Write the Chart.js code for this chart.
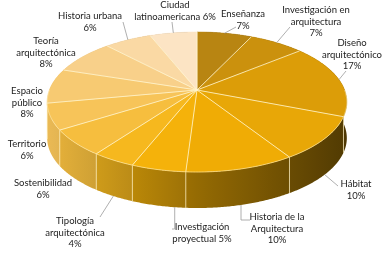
<!DOCTYPE html>
<html>
<head>
<meta charset="utf-8">
<script src="https://cdn.jsdelivr.net/npm/chart.js@4.4.1/dist/chart.umd.min.js"></script>
<style>
  html, body { margin: 0; padding: 0; background: #fff; }
  #wrap { width: 390px; height: 253px; }
</style>
</head>
<body>
<div id="wrap"><canvas id="pieChart" width="390" height="253"></canvas></div>
<script>
const categories = ['Enseñanza', 'Investigación en arquitectura', 'Diseño arquitectónico', 'Hábitat',
  'Historia de la Arquitectura', 'Investigación proyectual', 'Tipología arquitectónica', 'Sostenibilidad',
  'Territorio', 'Espacio público', 'Teoría arquitectónica', 'Historia urbana', 'Ciudad latinoamericana'];
const shares = [7, 7, 17, 10, 10, 5, 4, 6, 6, 8, 8, 6, 6];

// how each label is broken into lines ({p} = percentage)
const labelLines = [
  ['Enseñanza', '{p}'], ['Investigación en', 'arquitectura', '{p}'], ['Diseño', 'arquitectónico', '{p}'],
  ['Hábitat', '{p}'], ['Historia de la', 'Arquitectura', '{p}'], ['Investigación', 'proyectual {p}'],
  ['Tipología', 'arquitectónica', '{p}'], ['Sostenibilidad', '{p}'], ['Territorio', '{p}'],
  ['Espacio', 'público', '{p}'], ['Teoría', 'arquitectónica', '{p}'], ['Historia urbana', '{p}'],
  ['Ciudad', 'latinoamericana {p}']
];

const sliceColors = ['#B88512', '#CB910D', '#DC9D08', '#E8A707', '#F0AC05', '#F5B20A', '#F6B81E',
  '#F6BE3E', '#F7C459', '#F7CA72', '#F8D08A', '#FAD9A4', '#FCE4C4'];

// label placement: centre x, y of first line
const labelPos = [[243, 14], [316, 10], [352, 43], [356, 184], [277, 217], [202, 227], [75, 221],
  [43, 183], [27, 144], [27, 91], [46, 41], [90, 16], [175, 5]];
// leader lines: label-side end (null = no leader) and where along the slice they start
const leaderEnd = [[236, 27], [290, 27], [346, 71], [338, 186], [250, 220], [172, 229], [100, 217],
  null, null, null, null, [123, 22], [172, 22]];
const leaderAt = [0.5, 0.5, 0.5, 0.5, 0.5, 0.2, 0.5, 0.5, 0.5, 0.5, 0.5, 0.5, 0.5];

const SX = 1.64, SY = 0.755, DEPTH = 0.4, PERSP = 0.1714;

function rgb(hex) {
  const n = parseInt(hex.slice(1), 16);
  return [(n >> 16) & 255, (n >> 8) & 255, n & 255];
}
function shade(hex, f) {
  const c = rgb(hex).map(x => Math.min(255, Math.round(x * f)));
  return `rgb(${c[0]},${c[1]},${c[2]})`;
}
function wallFactor(u) {
  return u < 0 ? 0.62 - 0.33 * u : 0.62 - 0.27 * u;
}

function projector(arc) {
  const R = arc.outerRadius;
  return (a, drop) => {
    const u = Math.cos(a), v = Math.sin(a);
    const d = 1 - PERSP * v;
    return [arc.x + R * SX * u / d, arc.y + R * SY * v / d + (drop ? R * DEPTH : 0)];
  };
}

const pie3d = {
  id: 'pie3d',
  beforeDatasetsDraw(chart) {
    const ctx = chart.ctx;
    const arcs = chart.getDatasetMeta(0).data;
    const proj = projector(arcs[0]);
    const step = Math.PI / 360;
    const R = arcs[0].outerRadius;
    const xl = arcs[0].x - R * SX * 1.02, xr = arcs[0].x + R * SX * 1.02;

    // side wall, slices sorted back to front
    const order = arcs.map((arc, i) => {
      let vmax = -2;
      for (let a = arc.startAngle; a <= arc.endAngle; a += step) vmax = Math.max(vmax, Math.sin(a));
      vmax = Math.max(vmax, Math.sin(arc.endAngle));
      return { i, vmax };
    }).sort((p, q) => p.vmax - q.vmax);

    order.forEach(({ i }) => {
      const arc = arcs[i];
      const pts = [];
      for (let a = arc.startAngle; a < arc.endAngle; a += step) pts.push(a);
      pts.push(arc.endAngle);
      ctx.beginPath();
      pts.forEach((a, k) => {
        const p = proj(a, false);
        if (k === 0) ctx.moveTo(p[0], p[1]); else ctx.lineTo(p[0], p[1]);
      });
      for (let k = pts.length - 1; k >= 0; k--) {
        const p = proj(pts[k], true);
        ctx.lineTo(p[0], p[1]);
      }
      ctx.closePath();
      const g = ctx.createLinearGradient(xl, 0, xr, 0);
      for (let s = 0; s <= 20; s++) {
        const u = -1 + s / 10;
        g.addColorStop(s / 20, shade(sliceColors[i], wallFactor(u)));
      }
      ctx.fillStyle = g;
      ctx.fill();
    });
    // wall edges between slices
    ctx.strokeStyle = 'rgba(255,240,190,0.85)';
    ctx.lineWidth = 0.8;
    arcs.forEach(arc => {
      const a = arc.startAngle;
      if (Math.sin(a) > PERSP) {
        const p = proj(a, false), q = proj(a, true);
        ctx.beginPath();
        ctx.moveTo(p[0], p[1]);
        ctx.lineTo(q[0], q[1]);
        ctx.stroke();
      }
    });

    // top face
    arcs.forEach((arc, i) => {
      ctx.beginPath();
      ctx.moveTo(arc.x, arc.y);
      for (let a = arc.startAngle; a < arc.endAngle; a += step) {
        const p = proj(a, false);
        ctx.lineTo(p[0], p[1]);
      }
      const e = proj(arc.endAngle, false);
      ctx.lineTo(e[0], e[1]);
      ctx.closePath();
      ctx.fillStyle = sliceColors[i];
      ctx.strokeStyle = sliceColors[i];
      ctx.lineWidth = 0.5;
      ctx.fill();
      ctx.stroke();
    });
    ctx.strokeStyle = 'rgba(255,245,205,0.9)';
    ctx.lineWidth = 0.9;
    arcs.forEach(arc => {
      const p = proj(arc.startAngle, false);
      ctx.beginPath();
      ctx.moveTo(arc.x, arc.y);
      ctx.lineTo(p[0], p[1]);
      ctx.stroke();
    });
    // light rim on the front edge
    ctx.beginPath();
    for (let a = 0; a <= Math.PI; a += step) {
      const p = proj(a, false);
      if (a === 0) ctx.moveTo(p[0], p[1]); else ctx.lineTo(p[0], p[1]);
    }
    ctx.strokeStyle = 'rgba(255,240,190,0.7)';
    ctx.lineWidth = 0.8;
    ctx.stroke();
    return false;
  },
  afterDraw(chart) {
    const ctx = chart.ctx;
    const arcs = chart.getDatasetMeta(0).data;
    const proj = projector(arcs[0]);

    // leader lines
    ctx.strokeStyle = '#9a9a9a';
    ctx.lineWidth = 0.8;
    arcs.forEach((arc, i) => {
      const end = leaderEnd[i];
      if (!end) return;
      const mid = arc.startAngle + (arc.endAngle - arc.startAngle) * leaderAt[i];
      const front = Math.sin(mid) > 0.3;
      const p = proj(mid, front);
      ctx.beginPath();
      ctx.moveTo(p[0], p[1]);
      if (front && Math.abs(Math.cos(mid)) < 0.4) {
        ctx.lineTo(p[0], end[1]);
      }
      ctx.lineTo(end[0], end[1]);
      ctx.stroke();
    });

    // labels
    ctx.fillStyle = '#222';
    ctx.font = '9.5px Lato';
    ctx.textAlign = 'center';
    ctx.textBaseline = 'middle';
    labelLines.forEach((lines, i) => {
      const [x, y] = labelPos[i];
      lines.forEach((t, k) => {
        ctx.fillText(t.replace('{p}', shares[i] + '%'), x, y + k * 11.5);
      });
    });
  }
};

new Chart(document.getElementById('pieChart'), {
  type: 'pie',
  data: {
    labels: categories,
    datasets: [{ data: shares, backgroundColor: sliceColors, borderWidth: 0 }]
  },
  options: {
    responsive: false,
    animation: false,
    layout: { padding: { left: 4, right: 0, top: 0, bottom: 73 } },
    plugins: { legend: { display: false }, tooltip: { enabled: false } }
  },
  plugins: [pie3d]
});
</script>
</body>
</html>
